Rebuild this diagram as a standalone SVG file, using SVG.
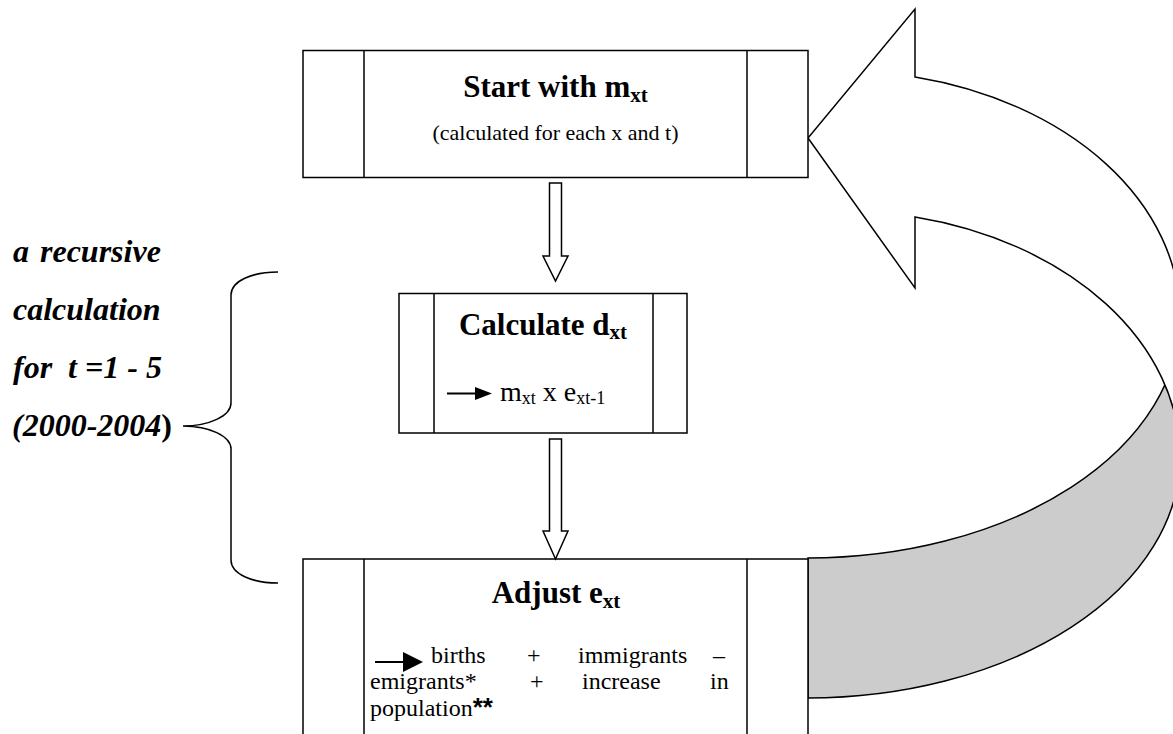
<svg xmlns="http://www.w3.org/2000/svg" width="1173" height="734" viewBox="0 0 1173 734">
<style>
.box{fill:#fff;stroke:#000;stroke-width:1.5}
.ln{stroke:#000;stroke-width:1.5;fill:none}
.t{font-family:"Liberation Serif","Times New Roman",serif;fill:#000}
.b{font-weight:bold}
.big{fill:#fff;stroke:#000;stroke-width:1.5;stroke-linejoin:miter}
.back{fill:#cccccc;stroke:#000;stroke-width:1.5}
.lbl{font-family:"Liberation Serif","Times New Roman",serif;font-weight:bold;font-style:italic;font-size:32px;fill:#000;white-space:pre}
.bul{stroke:#000;stroke-width:2}
</style>
<rect width="1173" height="734" fill="#fff"/>

<g id="loop-arrow">
<path class="back" d="M808 558 A372 241 0 0 0 1180 317 L1180 457 A372 241 0 0 1 808 698 Z"/>
<path class="big" d="M915 77 A340 246.4 0 0 1 1180 317 L1180 457 A340 246.4 0 0 0 915 217 L915 288 L808 138 L915 9 Z"/>
</g>

<g id="node-start">
<rect class="box" x="303" y="50.5" width="505" height="127"/>
<line class="ln" x1="364" y1="50.5" x2="364" y2="177.5"/>
<line class="ln" x1="747" y1="50.5" x2="747" y2="177.5"/>
<text class="t b" x="555.5" y="96.5" font-size="31" text-anchor="middle">Start with m<tspan font-size="21" dy="5">xt</tspan></text>
<text class="t" x="555.5" y="140" font-size="22" text-anchor="middle">(calculated for each x and t)</text>
</g>

<g id="node-calc">
<rect class="box" x="399" y="293.5" width="288" height="139.5"/>
<line class="ln" x1="434" y1="293.5" x2="434" y2="433"/>
<line class="ln" x1="653" y1="293.5" x2="653" y2="433"/>
<text class="t b" x="543" y="335" font-size="31" text-anchor="middle">Calculate d<tspan font-size="21" dy="4">xt</tspan></text>
<line class="bul" x1="447" y1="393.5" x2="477" y2="393.5"/>
<polygon points="475,387 492,393.5 475,400" fill="#000"/>
<text class="t" x="500" y="401" font-size="28">m<tspan font-size="18" dy="3">xt</tspan><tspan dy="-3"> x e</tspan><tspan font-size="18" dy="3">xt-1</tspan></text>
</g>

<g id="node-adjust">
<rect class="box" x="303" y="559" width="505" height="200"/>
<line class="ln" x1="364" y1="559" x2="364" y2="734"/>
<line class="ln" x1="747" y1="559" x2="747" y2="734"/>
<text class="t b" x="556" y="603" font-size="31" text-anchor="middle">Adjust e<tspan font-size="21" dy="5">xt</tspan></text>
<line class="bul" x1="375" y1="662" x2="405" y2="662"/>
<polygon points="403,652 423,662 403,672" fill="#000"/>
<g class="t" font-size="24">
<text x="431" y="663">births</text>
<text x="527" y="663">+</text>
<text x="578" y="663">immigrants</text>
<text x="713" y="663">–</text>
<text x="370" y="689">emigrants*</text>
<text x="530" y="689">+</text>
<text x="582" y="689">increase</text>
<text x="710" y="689">in</text>
<text x="370" y="716">population<tspan font-family="Liberation Sans, Arial, sans-serif" font-weight="bold" font-size="26">**</tspan></text>
</g>
</g>

<g id="connectors">
<path class="big" d="M549.5 183 H561.5 V256 H568 L555.5 281 L543 256 H549.5 Z"/>
<path class="big" d="M549.5 439 H561.5 V531 H568 L555.5 559 L543 531 H549.5 Z"/>
</g>

<g id="label-recursive">
<path class="ln" d="M278 272 C252 272 231 281 231 295 L231 403 C231 416 209 426 183 426 C209 426 231 436 231 449 L231 560 C231 574 252 583 278 583"/>
<text class="lbl"><tspan x="13" y="262">a</tspan><tspan x="40" y="262">recursive</tspan></text>
<text class="lbl" x="13" y="320">calculation</text>
<text class="lbl" x="13" y="378" xml:space="preserve">for  t =1 - 5</text>
<text class="lbl" x="12" y="436">(2000-2004<tspan font-style="normal">)</tspan></text>
</g>
</svg>
